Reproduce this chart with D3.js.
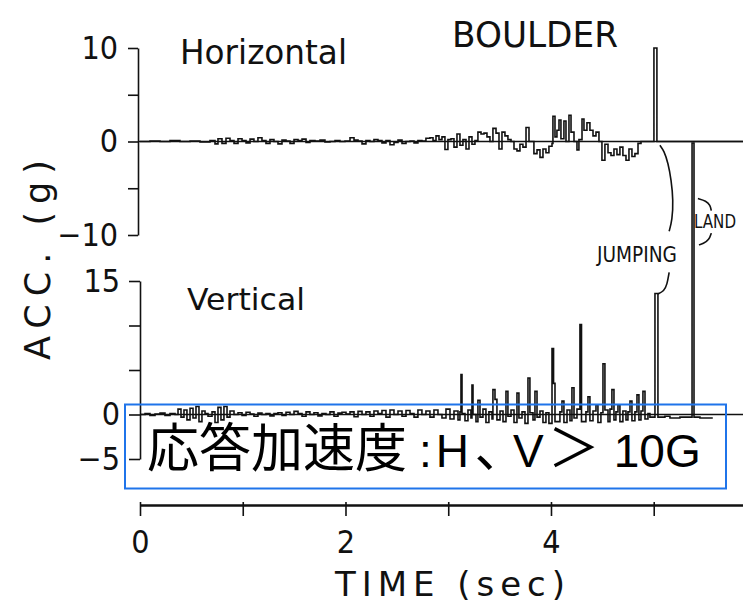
<!DOCTYPE html>
<html><head><meta charset="utf-8">
<script src="https://cdn.jsdelivr.net/npm/d3@7"></script>
<style>body{margin:0;background:#fff;}svg{display:block;}</style>
</head><body>
<svg id="c" width="743" height="604"></svg>
<script>
// ---- data: [time (s), acceleration (g)] ----
const hTrace = [
[0,0],[0.097,0.05],[0.195,0],[0.292,0.1],[0.389,0],[0.487,0.05],[0.584,-0.05],[0.681,0.1],
[0.730,-0.25],[0.759,0.3],[0.798,-0.2],[0.837,0.35],[0.876,0.1],[0.915,-0.2],[0.954,0.3],[0.993,0.1],
[1.032,-0.15],[1.071,0.25],[1.109,0],[1.148,0.4],[1.187,0.1],[1.226,-0.2],[1.265,0.2],[1.304,0],
[1.343,-0.25],[1.382,0.15],[1.421,0.05],[1.460,-0.2],[1.499,0.2],[1.538,0.1],[1.577,0.25],[1.616,-0.1],
[1.654,0.1],[1.703,0.05],[1.752,0.15],[1.800,-0.05],[1.849,0],[1.898,0.1],[1.946,0],[1.995,0.05],
[2.044,0.4],[2.083,0.15],[2.122,0.05],[2.161,-0.25],[2.199,0.1],[2.238,0],[2.277,0.2],[2.316,0.1],
[2.355,-0.15],[2.394,0.1],[2.433,-0.35],[2.472,-0.1],[2.511,0.15],[2.550,-0.2],[2.589,0],[2.628,0.05],
[2.667,-0.15],[2.705,0.1],[2.744,0.05],[2.783,0.35],[2.822,0.4],[2.852,0.1],[2.881,0.6],[2.910,0.2],
[2.939,0.5],[2.968,-0.85],[2.997,0.2],[3.027,0.3],[3.056,-0.6],[3.085,0.8],[3.114,-0.4],[3.143,0.2],
[3.173,-0.8],[3.202,0.5],[3.231,-0.3],[3.260,0.1],[3.289,1.0],[3.319,0.8],[3.348,0.9],[3.377,0.5],
[3.406,0],[3.435,1.4],[3.465,0.9],[3.494,-0.8],[3.523,1.0],[3.552,0.6],[3.581,0.2],[3.611,0],
[3.640,-0.8],[3.669,-1.0],[3.698,-0.3],[3.727,-0.6],[3.757,1.5],[3.786,0],[3.815,0],[3.834,-1.3],
[3.864,-0.9],[3.893,-1.7],[3.922,-0.8],[3.951,-1.2],[3.980,-0.5],[4.010,-0.2],[4.019,2.7],[4.039,0.5],
[4.058,1.2],[4.078,2.3],[4.097,0.3],[4.126,2.2],[4.146,0],[4.175,2.8],[4.195,1.0],[4.224,0],
[4.253,-0.9],[4.272,0.2],[4.302,2.4],[4.321,1.2],[4.350,2.0],[4.379,1.2],[4.409,0.6],[4.438,1.0],
[4.467,0],[4.496,-2.0],[4.525,-0.3],[4.555,-1.2],[4.584,-1.5],[4.613,-0.8],[4.642,-1.4],[4.671,-0.6],
[4.700,-1.5],[4.730,-2.0],[4.759,-0.8],[4.788,-1.6],[4.817,-1.3],[4.847,-0.2],[4.876,0],[4.993,0],
[5.002,10.0],[5.022,10.0],[5.031,0],[5.868,0]
];
const vTrace = [
[0,0],[0.049,0.1],[0.097,-0.1],[0.146,0.05],[0.195,0.15],[0.243,-0.1],[0.292,0.1],[0.341,0],
[0.370,0.6],[0.399,-0.3],[0.428,0.5],[0.457,-0.6],[0.487,0.7],[0.516,-0.4],[0.545,0.9],[0.574,-0.8],
[0.603,0.4],[0.633,0.1],[0.662,-0.2],[0.701,0.3],[0.730,-0.9],[0.759,0.8],[0.788,-0.6],[0.817,0.9],
[0.847,-0.3],[0.876,0.4],[0.915,0],[0.954,0.2],[0.993,-0.1],[1.032,0.25],[1.071,0.05],[1.109,-0.2],
[1.148,0.15],[1.187,0],[1.226,0.1],[1.265,-0.15],[1.304,0.1],[1.343,0.2],[1.382,-0.1],[1.421,0.25],
[1.460,0],[1.499,0.35],[1.538,0.1],[1.577,-0.2],[1.616,0.3],[1.654,0],[1.693,0.2],[1.732,-0.15],
[1.771,0.1],[1.810,0],[1.849,0.3],[1.888,-0.2],[1.927,0.15],[1.966,0.25],[2.005,0.05],[2.044,0.3],
[2.083,-0.25],[2.122,0.35],[2.161,0],[2.199,0.3],[2.238,-0.2],[2.277,0.4],[2.316,0.1],[2.355,0.45],
[2.394,-0.3],[2.433,0.5],[2.472,0],[2.511,0.4],[2.550,-0.2],[2.589,0.45],[2.628,0.1],[2.667,-0.3],
[2.705,0.5],[2.744,0],[2.783,0.4],[2.822,-0.3],[2.861,0.5],[2.900,0],[2.939,-0.4],[2.978,0.6],
[3.017,-0.5],[3.056,0.4],[3.095,-0.6],[3.114,0.3],[3.124,4.5],[3.134,0.1],[3.163,-0.7],[3.192,0.5],
[3.221,-0.4],[3.231,3.3],[3.241,0],[3.270,-0.8],[3.289,1.6],[3.309,-0.3],[3.338,0.6],[3.367,-0.9],
[3.396,0.3],[3.426,-0.5],[3.435,2.8],[3.455,1.7],[3.474,-0.6],[3.504,0.4],[3.533,-0.8],[3.562,2.6],
[3.581,-0.2],[3.611,0.5],[3.640,-0.9],[3.669,2.4],[3.688,-0.4],[3.718,0.3],[3.747,-1.0],[3.776,4.1],
[3.795,0.2],[3.825,-0.6],[3.844,2.6],[3.864,-0.3],[3.893,0.4],[3.922,-0.9],[3.951,0.2],[3.980,-1.0],
[4.010,7.4],[4.025,3.5],[4.039,-0.8],[4.058,-0.8],[4.087,0.3],[4.107,1.5],[4.126,-0.9],[4.156,0.5],
[4.185,-0.7],[4.204,3.0],[4.224,-0.4],[4.253,0.6],[4.282,10.1],[4.297,-0.8],[4.311,-0.8],[4.340,0.3],
[4.360,2.0],[4.379,-0.7],[4.409,0.4],[4.438,1.1],[4.457,-0.9],[4.486,0.2],[4.506,5.7],[4.525,0.5],
[4.555,-0.8],[4.574,0.6],[4.593,2.8],[4.613,-0.6],[4.632,0.3],[4.652,1.1],[4.671,-0.8],[4.700,0.4],
[4.730,-0.6],[4.749,0.3],[4.769,1.5],[4.788,-0.7],[4.817,0.3],[4.837,2.2],[4.856,-0.6],[4.876,0.4],
[4.895,2.6],[4.915,-0.5],[4.944,0.1],[4.963,-0.3],[5.002,-0.3],[5.012,13.6],[5.031,13.6],[5.041,-0.3],
[5.109,-0.2],[5.158,-0.4],[5.255,-0.3],[5.353,-0.3],[5.373,30.5],[5.392,-0.3],[5.450,-0.4],
[5.567,-0.3]
];
const hTicks = [-10,-5,0,5,10];
const hTickLabels = [-10,0,10];
const vTicks = [-5,0,5,10,15];
const vTickLabels = [-5,0,15];
const tTicks = [0,1,2,3,4,5];
const tTickLabels = [0,2,4];
const panelNames = ["Horizontal","Vertical"];
const chartTitle = "BOULDER";
const yTitle = "ACC. (g)";
const xTitle = "TIME (sec)";
// note pieces: text, font kind, extra spacing before it
const noteText = [["応答加速度","cjk",0],[":","lat",12],["H","lat",4],["、","cjkp",6],["V","lat",12],["＞","cjk",4],["10G","lat",14]];
// annotation brackets (time, g in horizontal panel units)
const jumpUpper = [[5.06,-0.4],[5.10,-1.0],[5.14,-2.3],[5.17,-4.1],[5.19,-6.3],[5.18,-8.4],[5.15,-9.6]];
const jumpLower = [[5.15,-14.0],[5.13,-15.3],[5.10,-16.0],[5.04,-16.3]];
const landUpper = [[5.43,-6.1],[5.51,-6.35],[5.55,-6.8],[5.56,-7.4]];
const landLower = [[5.56,-9.8],[5.54,-10.5],[5.48,-10.95],[5.44,-11.05]];

const svg = d3.select("#c");
const ink = "#111";
const plotFont = "'DejaVu Sans Condensed','DejaVu Sans',sans-serif";

const x = d3.scaleLinear().domain([0,5.9]).range([140,746.2]);
const yH = d3.scaleLinear().domain([-10,10]).range([235,48]);
const yV = d3.scaleLinear().domain([-5,15]).range([459,281]);

function styleAxis(g, fs){
  g.selectAll("path.domain").attr("stroke",ink).attr("stroke-width",1.6);
  g.selectAll(".tick line").attr("stroke",ink).attr("stroke-width",1.6);
  g.selectAll(".tick text").attr("fill",ink).style("font-family",plotFont).style("font-size",fs+"px");
}

// horizontal panel axis
const gH = svg.append("g").attr("transform","translate(138,0)")
  .call(d3.axisLeft(yH).tickValues(hTicks).tickSizeInner(10).tickSizeOuter(0).tickPadding(10)
    .tickFormat(d=>hTickLabels.includes(d)? d3.format("d")(d):""));
styleAxis(gH,32);
// vertical panel axis
const gV = svg.append("g").attr("transform","translate(140,0)")
  .call(d3.axisLeft(yV).tickValues(vTicks).tickSizeInner(11).tickSizeOuter(0).tickPadding(9)
    .tickFormat(d=>vTickLabels.includes(d)? d3.format("d")(d):""));
styleAxis(gV,32);
// time axis
const gX = svg.append("g").attr("transform","translate(0,505)")
  .call(d3.axisBottom(x).tickValues(tTicks).tickSizeInner(11).tickSizeOuter(0).tickPadding(14)
    .tickFormat(d=>tTickLabels.includes(d)? String(d):""));
styleAxis(gX,32);
gX.select("path.domain").attr("stroke-width",2.6);
gX.selectAll(".tick line").attr("y1",-3);

// zero reference lines
svg.append("line").attr("x1",138).attr("x2",743).attr("y1",yH(0)).attr("y2",yH(0))
  .attr("stroke",ink).attr("stroke-width",1.4);
svg.append("line").attr("x1",140).attr("x2",743).attr("y1",yV(0)).attr("y2",yV(0))
  .attr("stroke",ink).attr("stroke-width",1.4);

// traces
const lineH = d3.line().x(d=>x(d[0])).y(d=>yH(d[1])).curve(d3.curveStepAfter);
const lineV = d3.line().x(d=>x(d[0])).y(d=>yV(d[1])).curve(d3.curveStepAfter);
svg.append("path").attr("d",lineH(hTrace)).attr("fill","none").attr("stroke",ink).attr("stroke-width",1.6);
svg.append("path").attr("d",lineV(vTrace)).attr("fill","none").attr("stroke",ink).attr("stroke-width",1.6);

// annotation brackets
const lineA = d3.line().x(d=>x(d[0])).y(d=>yH(d[1])).curve(d3.curveBasis);
[jumpUpper,jumpLower,landUpper,landLower].forEach(p=>{
  svg.append("path").attr("d",lineA(p)).attr("fill","none").attr("stroke",ink).attr("stroke-width",1.6);
});

// texts
svg.append("text").attr("x",452).attr("y",47).text(chartTitle)
  .style("font-family","'DejaVu Sans',sans-serif").style("font-size","35px").attr("fill",ink)
  .attr("textLength",166).attr("lengthAdjust","spacingAndGlyphs");
svg.append("text").attr("x",180).attr("y",64).text(panelNames[0])
  .style("font-family","'DejaVu Sans',sans-serif").style("font-size","33px").attr("fill",ink)
  .attr("textLength",167).attr("lengthAdjust","spacingAndGlyphs");
svg.append("text").attr("x",187).attr("y",310).text(panelNames[1])
  .style("font-family","'DejaVu Sans',sans-serif").style("font-size","31px").attr("fill",ink)
  .attr("textLength",118).attr("lengthAdjust","spacingAndGlyphs");
svg.append("text").attr("transform","translate(50,260) rotate(-90)").attr("text-anchor","middle")
  .text(yTitle).style("font-family","'DejaVu Sans',sans-serif").style("font-size","35px").attr("fill",ink)
  .attr("textLength",200).attr("lengthAdjust","spacing");
svg.append("text").attr("x",335).attr("y",596).text(xTitle)
  .style("font-family","'DejaVu Sans',sans-serif").style("font-size","34px").attr("fill",ink)
  .attr("textLength",230).attr("lengthAdjust","spacing");
svg.append("text").attr("x",597).attr("y",262).text("JUMPING")
  .style("font-family",plotFont).style("font-size","21px").attr("fill",ink)
  .attr("textLength",80).attr("lengthAdjust","spacingAndGlyphs");
svg.append("text").attr("x",694).attr("y",228).text("LAND")
  .style("font-family",plotFont).style("font-size","20px").attr("fill",ink)
  .attr("textLength",42).attr("lengthAdjust","spacingAndGlyphs");

// overlay note box
svg.append("rect").attr("x",125).attr("y",404.5).attr("width",601).attr("height",84)
  .attr("fill","none").attr("stroke","#1f74ea").attr("stroke-width",2);
const note = svg.append("text").attr("x",147).attr("y",467).attr("fill","#000");
noteText.forEach(([s,k,dx])=>{
  const t = note.append("tspan").attr("dx",dx).text(s)
    .style("font-family", k!=="lat" ? "'Noto Sans CJK JP',sans-serif" : "'Liberation Sans',Arial,sans-serif")
    .style("font-size", k!=="lat" ? "52px" : "46px");
  if (k==="cjkp") t.style("font-feature-settings","'palt' 1");
});
</script>
</body></html>
